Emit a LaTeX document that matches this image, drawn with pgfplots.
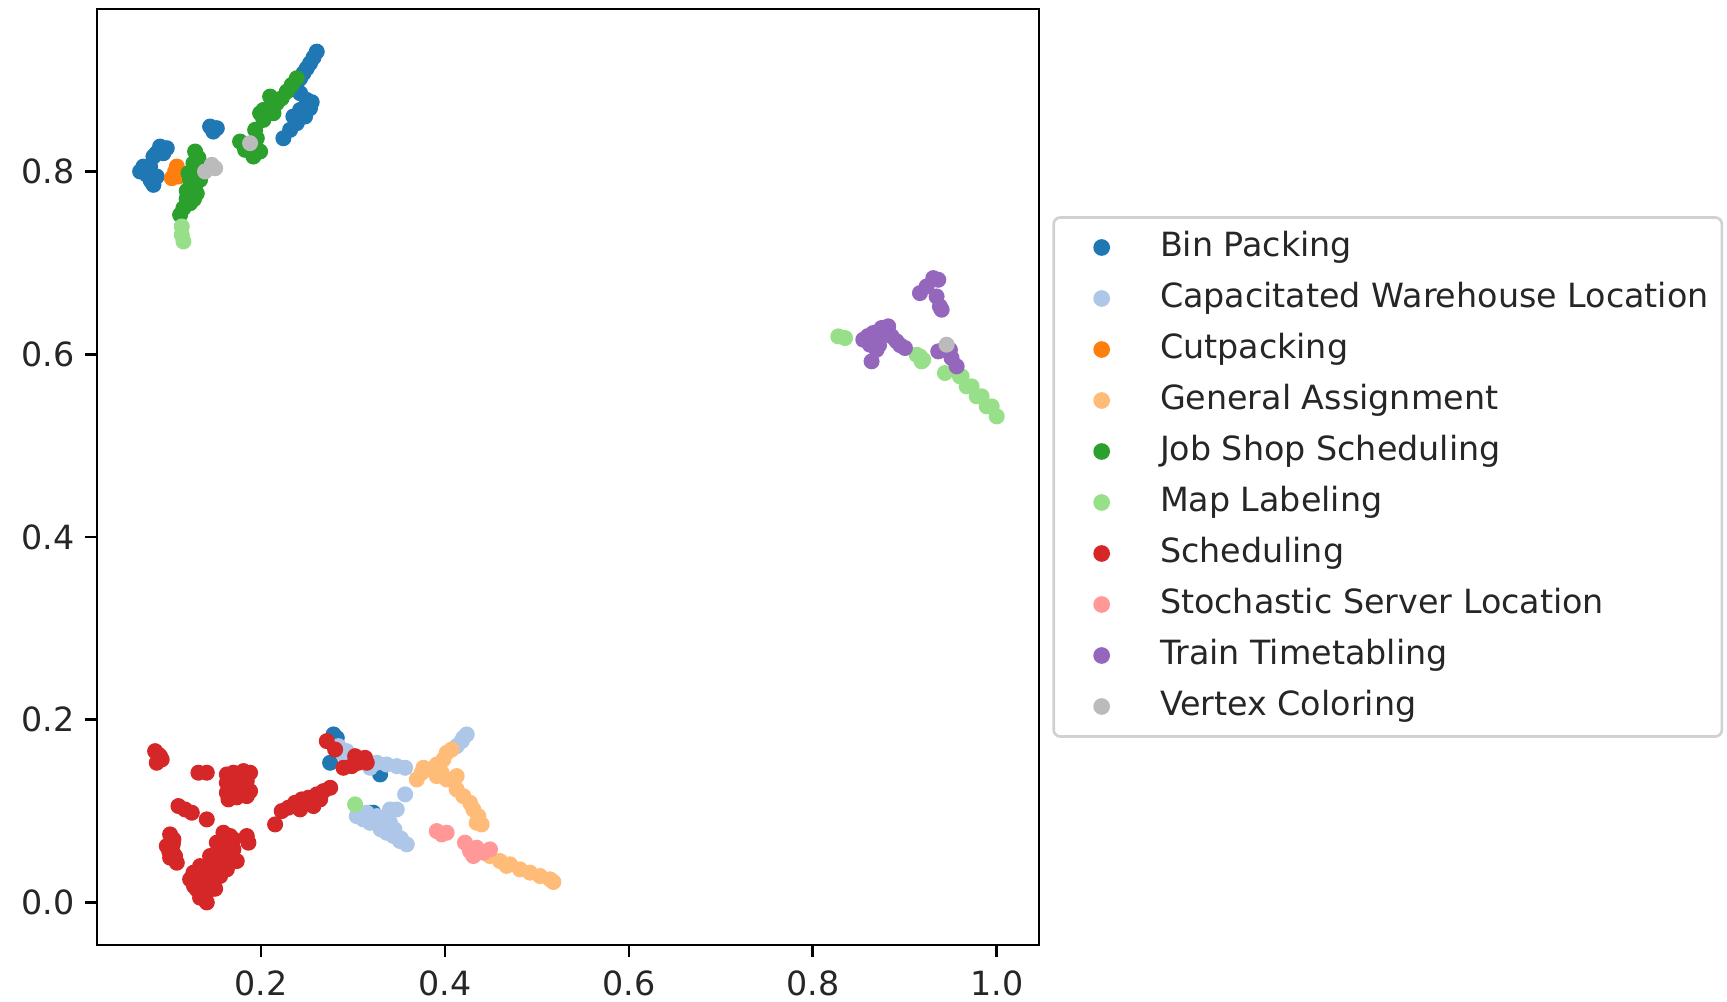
\documentclass[border=0pt]{standalone}
\usepackage{fontspec}
\setmainfont{DejaVu Sans}
\usepackage{pgfplots}
\pgfplotsset{compat=1.18}
\definecolor{cA}{HTML}{1F77B4}
\definecolor{cB}{HTML}{AEC7E8}
\definecolor{cC}{HTML}{FF7F0E}
\definecolor{cD}{HTML}{FFBB78}
\definecolor{cE}{HTML}{2CA02C}
\definecolor{cF}{HTML}{98DF8A}
\definecolor{cG}{HTML}{D62728}
\definecolor{cH}{HTML}{FF9896}
\definecolor{cI}{HTML}{9467BD}
\definecolor{cJ}{HTML}{BBBBBB}
\pgfplotsset{myscatter/.style={only marks, mark=*, mark size=2.2pt, mark options={draw=none},
  legend image code/.code={\path (0pt,0pt) (20pt,0pt);
  \draw[mark repeat=2,mark phase=2,mark size=2.1pt,##1] plot coordinates {(0pt,0pt) (10pt,0pt) (20pt,0pt)};}}}
\begin{document}
\begin{tikzpicture}
\begin{axis}[name=ax, scale only axis, width=282.6pt, height=280.8pt,
  xmin=0.0215, xmax=1.046, ymin=-0.0466, ymax=0.978,
  xtick={0.2,0.4,0.6,0.8,1.0}, ytick={0,0.2,0.4,0.6,0.8},
  tick pos=left, tick align=outside, major tick length=3.5pt,
  tick style={black, line width=0.8pt}, axis line style={line width=0.8pt},
  /pgf/number format/.cd, fixed, fixed zerofill, precision=1, assume math mode=true, /pgfplots/.cd,
  ticklabel style={font=\fontsize{10}{12}\selectfont, text=black!85},
  yticklabel style={xshift=0.3pt},
  xticklabel style={yshift=-0.7pt},
  legend style={at={(1,0.5)}, anchor=west, xshift=4pt, draw=black!18, line width=0.8pt,
    rounded corners=2pt, inner xsep=4pt, inner ysep=4pt, row sep=5.3pt, column sep=7.1pt,
    font=\fontsize{10}{12}\selectfont, text=black!85,
    nodes={inner sep=0pt, text height=7.6pt, text depth=2.4pt}},
  legend cell align=left]
\addplot[myscatter, cA] coordinates {
(0.2605,0.9313) (0.2570,0.9250) (0.2532,0.9186) (0.2496,0.9130) (0.2460,0.9077) (0.2424,0.9020) (0.2388,0.8967)
(0.2424,0.8858) (0.2496,0.8785) (0.2532,0.8694) (0.2478,0.8603) (0.2388,0.8530) (0.2315,0.8457) (0.2242,0.8365) (0.2351,0.8603) (0.2424,0.8675) (0.2550,0.8760)
(0.1445,0.8493) (0.1518,0.8475) (0.1480,0.8438)
(0.0901,0.8274) (0.0974,0.8256) (0.0937,0.8201) (0.0829,0.8165) (0.0720,0.8055) (0.0684,0.8001) (0.0757,0.7965) (0.0829,0.7855) (0.0865,0.7946) (0.0793,0.8055)
(0.0860,0.8200) (0.0760,0.8020) (0.0800,0.7900) (0.0930,0.8250)
(0.2787,0.1839) (0.2823,0.1801) (0.2750,0.1529) (0.3294,0.1401) (0.3185,0.0982) (0.3221,0.0982)
};
\addlegendentry{Bin Packing}
\addplot[myscatter, cB] coordinates {
(0.2841,0.1711) (0.2931,0.1656) (0.2895,0.1620) (0.3258,0.1529) (0.3366,0.1510) (0.3475,0.1492) (0.3566,0.1474) (0.3185,0.1474) (0.3566,0.1183)
(0.3040,0.0945) (0.3149,0.0982) (0.3258,0.0945) (0.3402,0.1018) (0.3475,0.1018) (0.3185,0.0872) (0.3294,0.0836) (0.3366,0.0763) (0.3439,0.0727) (0.3511,0.0672) (0.3584,0.0636) (0.3112,0.0909) (0.3402,0.0872) (0.3330,0.0909)
(0.3220,0.0900) (0.3300,0.0800) (0.3450,0.0800) (0.3520,0.0700)
(0.4236,0.1839) (0.4181,0.1766) (0.4127,0.1711) (0.4199,0.1802)
};
\addlegendentry{Capacitated Warehouse Location}
\addplot[myscatter, cC] coordinates {
(0.1065,0.8001) (0.1029,0.7928) (0.1101,0.7946) (0.1083,0.8055) (0.1390,0.0380) (0.1450,0.0450)
};
\addlegendentry{Cutpacking}
\addplot[myscatter, cD] coordinates {
(0.3693,0.1347) (0.3747,0.1420) (0.3765,0.1474) (0.3837,0.1456) (0.3910,0.1510) (0.3982,0.1565) (0.4018,0.1638) (0.4072,0.1674) (0.3964,0.1420) (0.4018,0.1347) (0.4091,0.1328) (0.4127,0.1383) (0.4127,0.1237) (0.4199,0.1164) (0.4272,0.1091) (0.4308,0.1018) (0.4362,0.0945) (0.4398,0.0854) (0.4344,0.0872) (0.3910,0.1383)
(0.4489,0.0508) (0.4598,0.0453) (0.4707,0.0417) (0.4815,0.0362) (0.4924,0.0326) (0.5033,0.0289) (0.5142,0.0253) (0.5178,0.0224) (0.4670,0.0400)
};
\addlegendentry{General Assignment}
\addplot[myscatter, cE] coordinates {
(0.1282,0.8220) (0.1318,0.8150) (0.1264,0.8092) (0.1210,0.7983) (0.1228,0.7910) (0.1282,0.7840) (0.1300,0.7760) (0.1228,0.7654) (0.1155,0.7600) (0.1119,0.7527) (0.1191,0.7790) (0.1336,0.7910)
(0.1250,0.8000) (0.1270,0.7700) (0.1190,0.7700)
(0.1771,0.8329) (0.1826,0.8238) (0.1916,0.8165) (0.1989,0.8220) (0.1953,0.8365) (0.1935,0.8457) (0.2025,0.8566) (0.2025,0.8675) (0.2098,0.8712) (0.2170,0.8749) (0.2224,0.8803) (0.2279,0.8876) (0.2333,0.8949) (0.2388,0.9022) (0.2134,0.8639) (0.2098,0.8821) (0.1989,0.8639)
};
\addlegendentry{Job Shop Scheduling}
\addplot[myscatter, cF] coordinates {
(0.1137,0.7399) (0.1137,0.7308) (0.1155,0.7235) (0.3022,0.1073)
(0.8277,0.6196) (0.8350,0.6178) (0.9129,0.5995) (0.9183,0.5922) (0.9165,0.5977) (0.9201,0.5940) (0.9437,0.5795) (0.9618,0.5759) (0.9600,0.5758) (0.9673,0.5649) (0.9727,0.5649) (0.9782,0.5540) (0.9836,0.5540) (0.9891,0.5430) (0.9945,0.5430) (1.0000,0.5320)
};
\addlegendentry{Map Labeling}
\addplot[myscatter, cG] coordinates {
(0.0847,0.1656) (0.0901,0.1601) (0.0865,0.1529) (0.0919,0.1565) (0.0880,0.1620)
(0.1318,0.1420) (0.1409,0.1420)
(0.1627,0.1401) (0.1699,0.1420) (0.1808,0.1438) (0.1880,0.1420) (0.1627,0.1310) (0.1735,0.1310) (0.1844,0.1328) (0.1627,0.1201) (0.1699,0.1219) (0.1808,0.1237) (0.1880,0.1219) (0.1645,0.1128) (0.1844,0.1164)
(0.1663,0.1365) (0.1772,0.1383) (0.1770,0.1230) (0.1735,0.1150)
(0.1101,0.1055) (0.1173,0.1018) (0.1246,0.0982) (0.1409,0.0909)
(0.1010,0.0745) (0.1046,0.0690) (0.0974,0.0617) (0.1029,0.0581) (0.1064,0.0508) (0.1010,0.0490) (0.1083,0.0435) (0.1040,0.0640) (0.1000,0.0560)
(0.1590,0.0763) (0.1663,0.0727) (0.1518,0.0654) (0.1627,0.0617) (0.1699,0.0581) (0.1554,0.0545) (0.1445,0.0508) (0.1663,0.0471) (0.1735,0.0453) (0.1481,0.0435) (0.1336,0.0398) (0.1518,0.0362) (0.1627,0.0362) (0.1264,0.0326) (0.1409,0.0289) (0.1554,0.0289) (0.1228,0.0253) (0.1336,0.0217) (0.1481,0.0217) (0.1300,0.0143) (0.1409,0.0107) (0.1336,0.0052) (0.1409,0.0000) (0.1699,0.0690) (0.1844,0.0727) (0.1862,0.0654)
(0.1590,0.0470) (0.1450,0.0320) (0.1370,0.0330) (0.1560,0.0600) (0.1500,0.0150) (0.1270,0.0180) (0.1590,0.0540) (0.1650,0.0560)
(0.2152,0.0854) (0.2224,0.1000) (0.2297,0.1037) (0.2369,0.1091) (0.2442,0.1128) (0.2515,0.1146) (0.2605,0.1183) (0.2678,0.1219) (0.2751,0.1255) (0.2424,0.1018) (0.2569,0.1055) (0.2642,0.1128)
(0.2714,0.1766) (0.2805,0.1674) (0.2895,0.1474) (0.2985,0.1492) (0.3058,0.1529) (0.3130,0.1583) (0.3149,0.1529) (0.3022,0.1601)
};
\addlegendentry{Scheduling}
\addplot[myscatter, cH] coordinates {
(0.3910,0.0781) (0.4018,0.0763) (0.3964,0.0745) (0.4217,0.0654) (0.4272,0.0563) (0.4344,0.0599) (0.4416,0.0545) (0.4489,0.0581) (0.4308,0.0508)
};
\addlegendentry{Stochastic Server Location}
\addplot[myscatter, cI] coordinates {
(0.9165,0.6670) (0.9238,0.6743) (0.9310,0.6834) (0.9364,0.6816) (0.9346,0.6633) (0.9382,0.6524) (0.9401,0.6488)
(0.8549,0.6160) (0.8657,0.6233) (0.8748,0.6288) (0.8820,0.6306) (0.8766,0.6215) (0.8621,0.6105) (0.8693,0.6050) (0.8639,0.5923) (0.8911,0.6142) (0.9002,0.6069) (0.8857,0.6197)
(0.8600,0.6200) (0.8720,0.6100) (0.8950,0.6100)
(0.9364,0.6032) (0.9455,0.6069) (0.9509,0.5959) (0.9564,0.5868) (0.9491,0.6050) (0.9419,0.6050)
};
\addlegendentry{Train Timetabling}
\addplot[myscatter, cJ] coordinates {
(0.1463,0.8074) (0.1390,0.8001) (0.1500,0.8037) (0.1880,0.8311) (0.9455,0.6105)
};
\addlegendentry{Vertex Coloring}
\end{axis}
\pgfresetboundingbox
\path ([xshift=-29.1pt,yshift=-16.8pt]ax.south west) rectangle ([xshift=206.4pt,yshift=2.7pt]ax.north east);
\end{tikzpicture}
\end{document}
